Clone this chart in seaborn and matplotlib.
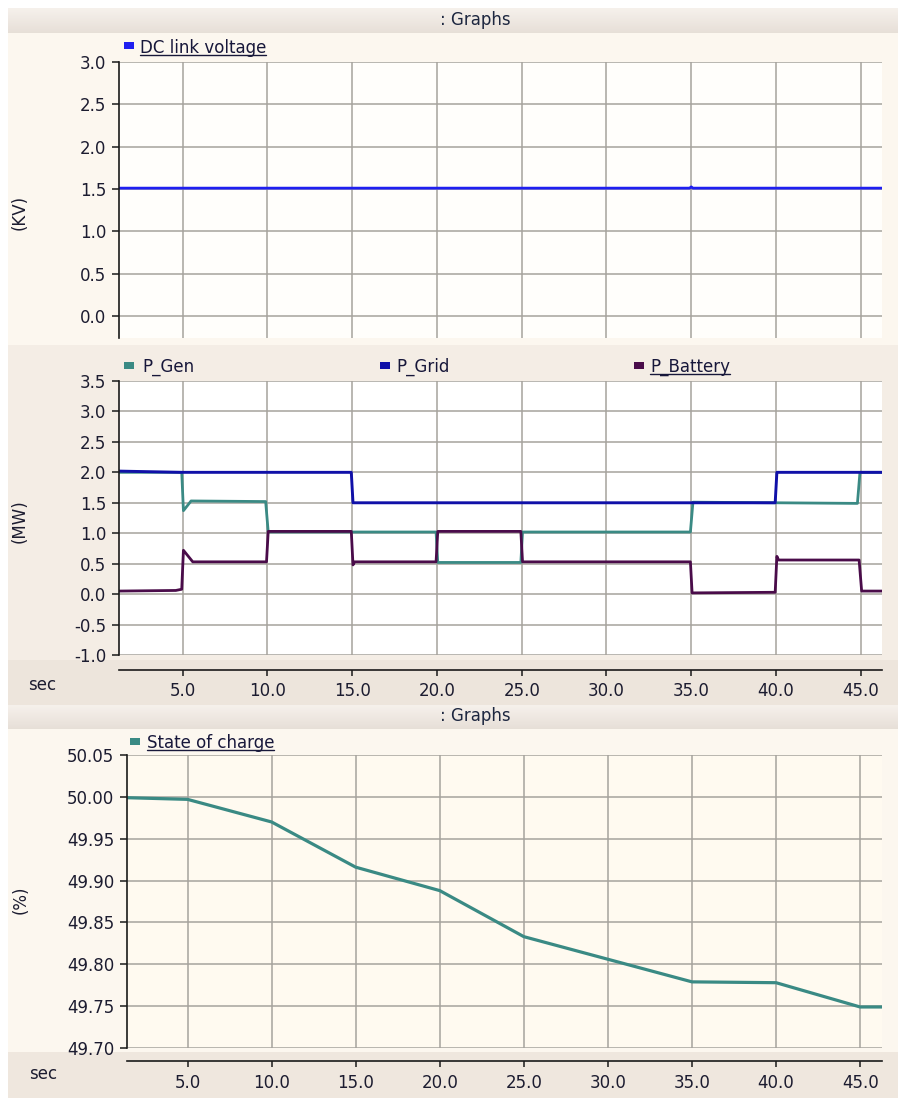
import matplotlib
matplotlib.use("Agg")
import matplotlib.pyplot as plt
from matplotlib.patches import Rectangle
from matplotlib.lines import Line2D
import numpy as np
import pandas as pd
import seaborn as sns

# ---------------- data ----------------
t_vdc = [1.25, 34.9, 35.0, 35.1, 46.25]
v_dc = [1.51, 1.51, 1.525, 1.51, 1.51]

t_grid = [1.25, 4.9, 14.95, 15.05, 39.95, 40.05, 46.25]
p_grid = [2.02, 2.0, 2.0, 1.5, 1.5, 2.0, 2.0]

t_gen = [1.25, 4.95, 5.05, 5.5, 9.9, 10.05, 19.95, 20.05, 24.95, 25.05,
         34.95, 35.1, 44.8, 44.95, 46.25]
p_gen = [2.0, 2.0, 1.37, 1.53, 1.52, 1.02, 1.02, 0.52, 0.52, 1.02,
         1.02, 1.51, 1.49, 2.0, 2.0]

t_bat = [1.25, 4.6, 4.95, 5.05, 5.6, 9.95, 10.05, 14.95, 15.05, 15.15,
         19.95, 20.05, 24.95, 25.05, 34.95, 35.05, 39.95, 40.05, 40.15,
         44.9, 45.05, 46.25]
p_bat = [0.05, 0.06, 0.08, 0.72, 0.53, 0.53, 1.03, 1.03, 0.48, 0.53,
         0.53, 1.03, 1.03, 0.53, 0.53, 0.02, 0.03, 0.62, 0.56,
         0.56, 0.05, 0.05]

t_soc = [1.4, 5.0, 10.0, 15.0, 20.0, 25.0, 35.0, 40.0, 45.0, 46.3]
soc = [49.999, 49.997, 49.970, 49.916, 49.888, 49.833, 49.779, 49.778, 49.749, 49.749]

x_ticks = [5.0, 10.0, 15.0, 20.0, 25.0, 30.0, 35.0, 40.0, 45.0]
kv_ticks = [0.0, 0.5, 1.0, 1.5, 2.0, 2.5, 3.0]
mw_ticks = [-1.0, -0.5, 0.0, 0.5, 1.0, 1.5, 2.0, 2.5, 3.0, 3.5]
soc_ticks = [49.70, 49.75, 49.80, 49.85, 49.90, 49.95, 50.00, 50.05]

# ---------------- style ----------------
sns.set_style("white")
plt.rcParams["font.family"] = ["DejaVu Sans"]
plt.rcParams["font.size"] = 12

W, H = 903, 1098
fig = plt.figure(figsize=(W / 100, H / 100), dpi=100, facecolor="white")

TXT = "#1c1c30"
GRID = "#a6a39d"
C_VDC = "#1f1ff0"
C_GRID = "#1010a8"
C_GEN = "#3a8a84"
C_BAT = "#4a0c4a"
C_SOC = "#3a8a84"

# window chrome drawn in pixel coordinates
bg = fig.add_axes([0, 0, 1, 1], zorder=-5)
bg.set_xlim(0, W)
bg.set_ylim(H, 0)
bg.axis("off")


def rect(x0, y0, x1, y1, color):
    bg.add_patch(Rectangle((x0, y0), x1 - x0, y1 - y0, color=color, lw=0))


def title_bar(y0, y1):
    grad = np.linspace(0, 1, 50)[:, None]
    top = np.array([0.965, 0.945, 0.925])
    bot = np.array([0.905, 0.875, 0.845])
    img = top + (bot - top) * grad[:, :, None]
    bg.imshow(img, extent=(8, 898, y1, y0), aspect="auto", zorder=1)


rect(8, 8, 898, 705, "#efe8df")
title_bar(8, 33)
rect(8, 33, 898, 345, "#fcf7ef")
rect(8, 345, 898, 660, "#f4ede5")
rect(8, 660, 898, 705, "#ede5dc")
title_bar(705, 729)
rect(8, 729, 898, 1052, "#fcf7ef")
rect(8, 1052, 898, 1098, "#efe7de")
bg.set_xlim(0, W)
bg.set_ylim(H, 0)


def px_axes(x0, y0, x1, y1, face):
    ax = fig.add_axes([x0 / W, 1 - y1 / H, (x1 - x0) / W, (y1 - y0) / H])
    ax.set_facecolor(face)
    return ax


def style_axes(ax, yticks, fmt, xlim, ylim, xaxis=True, offset=0):
    ax.set_xlim(*xlim)
    ax.set_ylim(*ylim)
    ax.set_xticks(x_ticks)
    ax.set_yticks(yticks)
    ax.set_yticklabels([fmt % v for v in yticks])
    ax.set_xticklabels(["%.1f" % v for v in x_ticks])
    ax.grid(True, color=GRID, lw=1.1)
    ax.set_axisbelow(True)
    for s in ("top", "right"):
        ax.spines[s].set_visible(False)
    ax.spines["left"].set_color("#1a1a1a")
    ax.spines["left"].set_linewidth(1.2)
    ax.tick_params(axis="y", direction="out", length=5, width=1.1,
                   color="#1a1a1a", pad=4, labelsize=12, labelcolor=TXT, left=True)
    if xaxis:
        ax.spines["bottom"].set_position(("outward", offset))
        ax.spines["bottom"].set_color("#1a1a1a")
        ax.spines["bottom"].set_linewidth(1.2)
        ax.tick_params(axis="x", direction="out", length=4, width=1.1,
                       color="#1a1a1a", pad=5, labelsize=12, labelcolor=TXT, bottom=True)
    else:
        ax.spines["bottom"].set_visible(False)
        ax.tick_params(axis="x", bottom=False, labelbottom=False)
    ax.set_xlabel("")
    ax.set_ylabel("")


def draw(ax, t, v, color, lw):
    df = pd.DataFrame({"t": t, "v": v})
    sns.lineplot(data=df, x="t", y="v", ax=ax, color=color, lw=lw,
                 estimator=None, sort=False, legend=False)


# panel 1: DC link voltage
ax1 = px_axes(119, 62, 882, 338, "#fffefb")
draw(ax1, t_vdc, v_dc, C_VDC, 2.0)
style_axes(ax1, kv_ticks, "%.1f", (1.25, 46.25), (-0.26, 3.0), xaxis=False)

# panel 2: powers
ax2 = px_axes(119, 381, 882, 655, "#ffffff")
draw(ax2, t_gen, p_gen, C_GEN, 2.0)
draw(ax2, t_bat, p_bat, C_BAT, 2.0)
draw(ax2, t_grid, p_grid, C_GRID, 2.1)
style_axes(ax2, mw_ticks, "%.1f", (1.25, 46.25), (-1.0, 3.5), offset=10.8)

# panel 3: state of charge
ax3 = px_axes(127, 755, 882, 1048, "#fffaf0")
draw(ax3, t_soc, soc, C_SOC, 2.3)
style_axes(ax3, soc_ticks, "%.2f", (1.4, 46.3), (49.70, 50.05), offset=9.4)


# ---------------- texts ----------------
def ftext(x, y, s, **kw):
    kw.setdefault("fontsize", 12)
    kw.setdefault("color", TXT)
    return fig.text(x / W, 1 - y / H, s, **kw)


ftext(475, 20, ": Graphs", ha="center", va="center", color="#1d2740")
ftext(475, 716, ": Graphs", ha="center", va="center", color="#1d2740")

ftext(20, 212, "(KV)", rotation=90, ha="center", va="center")
ftext(20, 521, "(MW)", rotation=90, ha="center", va="center")
ftext(21, 900, "(%)", rotation=90, ha="center", va="center")
ftext(42, 685, "sec", ha="center", va="center")
ftext(43, 1074, "sec", ha="center", va="center")

legend_items = [
    (124, 45, C_VDC, "DC link voltage", 140, 48, True),
    (124, 365, C_GEN, "P_Gen", 142, 367, False),
    (380, 365, C_GRID, "P_Grid", 396, 367, False),
    (634, 365, C_BAT, "P_Battery", 650, 367, True),
    (130, 741, C_SOC, "State of charge", 147, 743, True),
]
underlined = []
for sx, sy, col, label, tx, ty, ul in legend_items:
    rect(sx, sy - 3, sx + 10, sy + 4, col)
    t = ftext(tx, ty, label, ha="left", va="center", color="#17173a")
    if ul:
        underlined.append(t)

fig.canvas.draw()
renderer = fig.canvas.get_renderer()
for t in underlined:
    bb = t.get_window_extent(renderer)
    y = bb.y0 + 2.5
    fig.add_artist(Line2D([bb.x0 / W, bb.x1 / W], [y / H, y / H],
                          transform=fig.transFigure, color="#17173a", lw=1.0))

fig.savefig("out.png", dpi=100, facecolor=fig.get_facecolor())
